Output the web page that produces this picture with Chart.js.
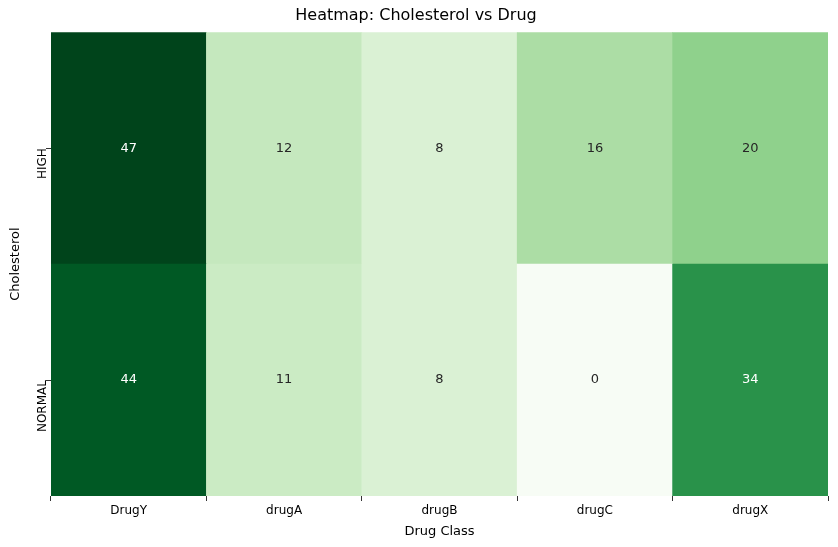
<!DOCTYPE html>
<html>
<head>
<script src="https://cdn.jsdelivr.net/npm/chart.js@4.4.0/dist/chart.umd.min.js"></script>
<style>
  html, body { margin: 0; padding: 0; background: #fff; }
  #wrap { width: 838px; height: 547px; }
</style>
</head>
<body>
<div id="wrap"><canvas id="chart"></canvas></div>
<script>
var drugs = ["DrugY", "drugA", "drugB", "drugC", "drugX"];
var cholesterol = ["HIGH", "NORMAL"];
var highCounts = [47, 12, 8, 16, 20];
var normalCounts = [44, 11, 8, 0, 34];

// matplotlib "Greens" colormap stops
var greens = ["#f7fcf5", "#e5f5e0", "#c7e9c0", "#a1d99b", "#74c476", "#41ab5d", "#238b45", "#006d2c", "#00441b"];
var vmin = 0, vmax = 47;

function hexToRgb(h) {
  return [parseInt(h.substr(1, 2), 16), parseInt(h.substr(3, 2), 16), parseInt(h.substr(5, 2), 16)];
}

function colorFor(v) {
  var t = (v - vmin) / (vmax - vmin) * (greens.length - 1);
  var i = Math.min(Math.floor(t), greens.length - 2);
  var f = t - i;
  var a = hexToRgb(greens[i]), b = hexToRgb(greens[i + 1]);
  var c = a.map(function (x, k) { return Math.round(x + (b[k] - x) * f); });
  return "rgb(" + c.join(",") + ")";
}

var cellLabels = {
  id: "cellLabels",
  afterDatasetsDraw: function (chart) {
    var ctx = chart.ctx;
    ctx.save();
    ctx.font = "13px 'DejaVu Sans'";
    ctx.textAlign = "center";
    ctx.textBaseline = "middle";
    chart.data.datasets.forEach(function (ds, di) {
      chart.getDatasetMeta(di).data.forEach(function (bar, i) {
        var v = ds.values[i];
        ctx.fillStyle = v > 25 ? "#ffffff" : "#262626";
        ctx.fillText(String(v), bar.x, (bar.y + bar.base) / 2);
      });
    });
    ctx.restore();
  }
};

new Chart(document.getElementById("chart"), {
  type: "bar",
  data: {
    labels: drugs,
    datasets: [
      {
        label: "NORMAL",
        values: normalCounts,
        data: normalCounts.map(function () { return [0, 1]; }),
        backgroundColor: normalCounts.map(colorFor),
        barPercentage: 1,
        categoryPercentage: 1,
        grouped: false
      },
      {
        label: "HIGH",
        values: highCounts,
        data: highCounts.map(function () { return [1, 2]; }),
        backgroundColor: highCounts.map(colorFor),
        barPercentage: 1,
        categoryPercentage: 1,
        grouped: false
      }
    ]
  },
  options: {
    responsive: true,
    maintainAspectRatio: false,
    animation: false,
    layout: { padding: { left: 4, right: 10, top: 0, bottom: 4 } },
    plugins: {
      legend: { display: false },
      tooltip: { enabled: false },
      title: {
        display: true,
        text: "Heatmap: Cholesterol vs Drug",
        color: "#000",
        font: { family: "DejaVu Sans", size: 16, weight: "normal" },
        padding: { top: 6, bottom: 7 }
      }
    },
    scales: {
      x: {
        grid: { drawOnChartArea: false, drawTicks: true, tickLength: 5, color: "#333" },
        border: { display: false },
        ticks: { color: "#000", font: { family: "DejaVu Sans", size: 12 }, padding: 3 },
        title: { display: true, text: "Drug Class", color: "#000", font: { family: "DejaVu Sans", size: 13 }, padding: { top: 2 } }
      },
      y: {
        min: 0,
        max: 2,
        afterBuildTicks: function (axis) {
          axis.ticks = [{ value: 0.5 }, { value: 1.5 }];
        },
        grid: { drawOnChartArea: false, drawTicks: true, tickLength: 5, color: "#333" },
        border: { display: false },
        ticks: {
          color: "#000",
          font: { family: "DejaVu Sans", size: 12 },
          minRotation: 90,
          maxRotation: 90,
          padding: 3,
          callback: function (value) {
            return value === 1.5 ? cholesterol[0] : value === 0.5 ? cholesterol[1] : "";
          }
        },
        title: { display: true, text: "Cholesterol", color: "#000", font: { family: "DejaVu Sans", size: 13 }, padding: { bottom: 2 } }
      }
    }
  },
  plugins: [cellLabels]
});
</script>
</body>
</html>
